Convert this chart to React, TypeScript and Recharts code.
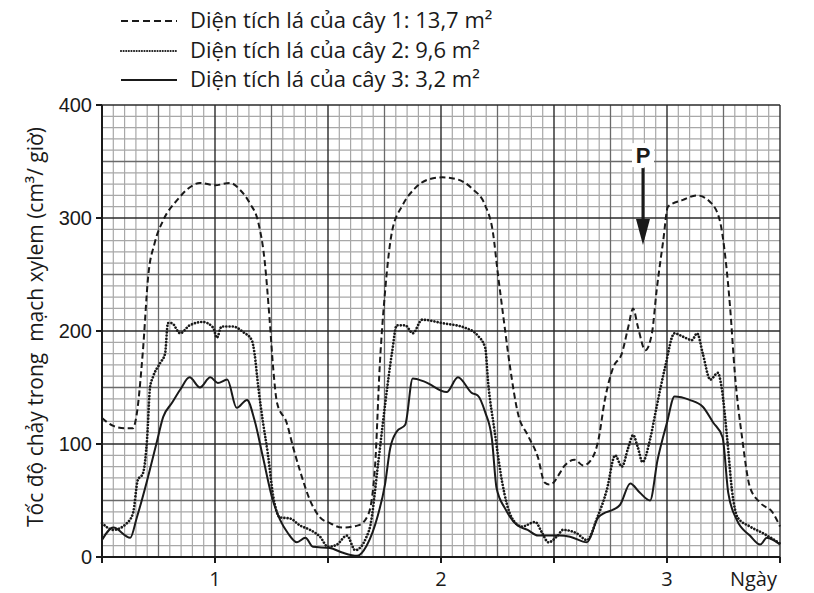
import { Line, LineChart, ReferenceDot, ReferenceLine, XAxis, YAxis } from "recharts";

// x = giờ tính từ đầu trục (mỗi ô lớn = 12 giờ), y = cm³/giờ
const hours1 = [0, 1.2, 2.4, 3.3, 3.6, 4.35, 4.9, 5.6, 6.5, 8.0, 9.3, 10.4, 12.0, 13.6, 14.65, 15.7, 16.6, 17.3, 17.8, 18.2, 18.6, 19.6, 20.3, 21.0, 22.1, 23.15, 24.2, 25.5, 27.2, 28.25, 29.0, 29.5, 30.05, 30.8, 31.9, 33.2, 34.6, 36.1, 37.8, 39.3, 40.7, 41.5, 42.05, 42.6, 43.3, 44.2, 45.2, 46.3, 47.0, 47.6, 48.6, 48.95, 50.2, 51.1, 52.1, 52.7, 53.4, 54.3, 55.2, 55.9, 56.4, 56.9, 57.7, 58.4, 58.9, 59.6, 60.1, 61.7, 63.2, 64.6, 65.6, 66.2, 66.7, 67.2, 68.0, 68.8, 69.9, 71.25, 72];
const flow1 = [123, 116, 114, 114, 122, 183, 248, 278, 298, 316, 327, 331, 329, 331, 325, 313, 296, 260, 210, 165, 136, 119, 97, 77, 50, 35, 30, 26, 28, 37, 81, 170, 234, 288, 311, 326, 334, 336, 334, 326, 311, 288, 250, 214, 170, 126, 108, 88, 66, 64, 74, 79, 86, 81, 88, 103, 139, 168, 180, 204, 220, 204, 183, 198, 236, 280, 310, 316, 320, 314, 298, 265, 221, 163, 104, 62, 48, 39, 27];

const hours2 = [0, 1.2, 2.65, 3.3, 3.8, 4.35, 4.8, 5.1, 5.4, 6.2, 6.7, 7.0, 7.4, 8.3, 9.3, 10.7, 11.8, 12.2, 12.7, 13.9, 15.0, 15.9, 16.2, 16.6, 17.1, 17.6, 18.2, 18.9, 20.0, 21.0, 22.1, 23.15, 24.0, 24.95, 26.0, 26.9, 28.1, 28.5, 29.3, 30.05, 30.8, 31.3, 32.2, 33.0, 34.0, 36.1, 38.5, 39.9, 40.7, 41.0, 41.7, 42.5, 43.5, 44.6, 46.0, 46.7, 47.4, 48.4, 48.95, 50.4, 51.5, 52.6, 53.6, 54.5, 55.2, 55.9, 56.4, 56.9, 57.4, 58.2, 58.9, 59.8, 60.8, 61.7, 62.65, 63.2, 63.8, 64.6, 65.4, 65.8, 66.4, 66.9, 67.5, 68.8, 70.2, 72];
const flow2 = [30, 24, 30, 39, 68, 74, 106, 150, 159, 172, 180, 207, 207, 198, 205, 208, 203, 194, 204, 204, 199, 192, 180, 150, 119, 92, 53, 35, 34, 28, 24, 18, 9, 11, 19, 6, 18, 28, 81, 134, 181, 205, 205, 198, 210, 207, 203, 196, 185, 155, 111, 66, 35, 27, 31, 22, 13, 19, 24, 21, 15, 35, 59, 90, 80, 97, 108, 97, 84, 104, 133, 168, 198, 195, 192, 198, 180, 157, 163, 150, 104, 59, 35, 27, 21, 12];

const hours3 = [0, 1.2, 3.0, 3.7, 4.8, 5.8, 6.5, 7.4, 8.3, 9.3, 10.4, 11.5, 12.3, 13.3, 14.3, 15.4, 16.2, 17.1, 18.05, 18.9, 19.75, 20.7, 21.6, 22.4, 24.2, 25.5, 27.1, 28.1, 29.3, 30.05, 30.6, 31.3, 32.2, 33.0, 34.3, 36.6, 37.8, 39.3, 39.9, 40.7, 41.4, 41.9, 42.8, 44.1, 45.2, 46.3, 48.6, 49.7, 51.5, 52.7, 55.0, 56.1, 57.1, 58.2, 59.0, 60.0, 60.8, 62.4, 63.8, 64.9, 65.9, 66.5, 67.4, 68.8, 69.9, 70.6, 72];
const flow3 = [15, 26, 17, 35, 68, 101, 124, 136, 148, 159, 150, 159, 154, 157, 132, 139, 121, 88, 53, 33, 21, 13, 17, 9, 8, 4, 1, 10, 37, 64, 96, 111, 117, 158, 155, 146, 159, 145, 143, 128, 105, 61, 43, 28, 24, 19, 19, 18, 13, 35, 46, 65, 57, 50, 86, 119, 142, 139, 133, 119, 106, 57, 33, 19, 11, 17, 11];

const seriesNames = [
  "Diện tích lá của cây 1: 13,7 m²",
  "Diện tích lá của cây 2: 9,6 m²",
  "Diện tích lá của cây 3: 3,2 m²",
];

const hourTicks = [0, 12, 24, 36, 48, 60, 72];
const dayLabels: Record<number, string> = { 12: "1", 36: "2", 60: "3", 72: "Ngày" };
const flowTicks = [0, 100, 200, 300, 400];

const markerHour = 57.45;
const markerFlow = 276;

// lưới giấy kẻ ô: ô nhỏ 1,2 giờ × 10 đơn vị; ô vừa 6 giờ × 50; ô lớn 12 giờ × 100
const minorX = Array.from({ length: 61 }, (_, i) => i).filter((i) => i % 5 !== 0).map((i) => +(i * 1.2).toFixed(2));
const mediumX = [6, 18, 30, 42, 54, 66];
const minorY = Array.from({ length: 41 }, (_, i) => i * 10).filter((v) => v % 50 !== 0);
const mediumY = [50, 150, 250, 350];

const ink = "#1a1a1a";
const labelFont = "'Open Sans', 'Noto Sans', sans-serif";

const styles = [
  { dash: "6 3.5", width: 2, cap: "butt" as const },
  { dash: "0.01 3.2", width: 2.7, cap: "round" as const },
  { dash: undefined, width: 2, cap: "butt" as const },
];

const gridLooks = {
  minor: { stroke: "#a8a8a8", strokeWidth: 1.2 },
  medium: { stroke: "#6a6a6a", strokeWidth: 1.3 },
  major: { stroke: "#2a2a2a", strokeWidth: 1.4 },
};

const toPoints = (hs: number[], vs: number[]) => hs.map((h, i) => ({ h, v: vs[i] }));
const data = [toPoints(hours1, flow1), toPoints(hours2, flow2), toPoints(hours3, flow3)];

function DayTick(props: any) {
  const { x, y, payload } = props;
  const text = dayLabels[payload.value];
  if (!text) return null;
  const end = payload.value === 72;
  return (
    <text
      x={end ? x - 3 : x}
      y={y + 21}
      textAnchor={end ? "end" : "middle"}
      fontFamily={labelFont}
      fontSize={20}
      fill={ink}
    >
      {text}
    </text>
  );
}

function YLabel(props: any) {
  const { viewBox } = props;
  const cx = 35;
  const cy = viewBox.y + viewBox.height / 2 - 4;
  return (
    <text
      x={cx}
      y={cy}
      transform={`rotate(-90, ${cx}, ${cy})`}
      textAnchor="middle"
      dominantBaseline="central"
      fontFamily={labelFont}
      fontSize={21}
      fill={ink}
      style={{ whiteSpace: "pre" }}
    >
      Tốc độ chảy trong  mạch xylem (cm³/ giờ)
    </text>
  );
}

function Arrow(props: any) {
  const { cx, cy } = props;
  return (
    <g>
      <rect x={cx - 11} y={cy - 102} width={22} height={24} fill="#fff" />
      <text x={cx} y={cy - 82} textAnchor="middle" fontFamily="'Liberation Sans', Arial, sans-serif" fontWeight="bold" fontSize={22} fill={ink}>
        P
      </text>
      <line x1={cx} y1={cy - 77} x2={cx} y2={cy - 22} stroke={ink} strokeWidth={3} />
      <polygon points={`${cx - 7},${cy - 26} ${cx + 7},${cy - 26} ${cx},${cy}`} fill={ink} />
    </g>
  );
}

function LegendBlock() {
  const rows = [21, 51, 80];
  return (
    <svg width={560} height={100} style={{ position: "absolute", left: 0, top: 0 }}>
      {seriesNames.map((name, i) => (
        <g key={name}>
          <line
            x1={121}
            x2={177}
            y1={rows[i]}
            y2={rows[i]}
            stroke={ink}
            strokeWidth={i === 1 ? 2.2 : 2}
            strokeLinecap={i === 1 ? "round" : "butt"}
            strokeDasharray={i === 0 ? "7 4" : i === 1 ? "0.01 2.6" : undefined}
          />
          <text x={190} y={rows[i] + 7} fontFamily={labelFont} fontSize={22} fill={ink}>
            {name}
          </text>
        </g>
      ))}
    </svg>
  );
}

const gridLines = (xs: number[], ys: number[], look: { stroke: string; strokeWidth: number }, tag: string) => [
  ...xs.map((v) => <ReferenceLine key={`${tag}x${v}`} x={v} {...look} ifOverflow="visible" zIndex={-100} />),
  ...ys.map((v) => <ReferenceLine key={`${tag}y${v}`} y={v} {...look} ifOverflow="visible" zIndex={-100} />),
];

export default function App() {
  return (
    <div style={{ position: "absolute", left: 0, top: 0, width: 814, height: 593, background: "#fff" }}>
      <LineChart width={814} height={593} margin={{ top: 105, right: 34, bottom: 0, left: 0 }}>
        <XAxis
          dataKey="h"
          type="number"
          domain={[0, 72]}
          ticks={hourTicks}
          height={36}
          stroke={ink}
          strokeWidth={2}
          tickSize={6}
          tick={<DayTick />}
          allowDuplicatedCategory={false}
        />
        <YAxis
          type="number"
          domain={[0, 400]}
          ticks={flowTicks}
          width={102}
          stroke={ink}
          strokeWidth={2}
          tickSize={6}
          tickMargin={4}
          tick={{ fill: ink, fontSize: 20, fontFamily: "'Liberation Sans', Arial, sans-serif" }}
          label={<YLabel />}
        />
        {gridLines(minorX, minorY, gridLooks.minor, "n")}
        {gridLines(mediumX, mediumY, gridLooks.medium, "m")}
        {gridLines(hourTicks, flowTicks, gridLooks.major, "j")}
        {data.map((d, i) => (
          <Line
            key={i}
            data={d}
            dataKey="v"
            type="monotone"
            stroke={ink}
            strokeWidth={styles[i].width}
            strokeDasharray={styles[i].dash}
            strokeLinecap={styles[i].cap}
            dot={false}
            activeDot={false}
            isAnimationActive={false}
          />
        ))}
        <ReferenceDot x={markerHour} y={markerFlow} shape={<Arrow />} />
      </LineChart>
      <LegendBlock />
    </div>
  );
}
